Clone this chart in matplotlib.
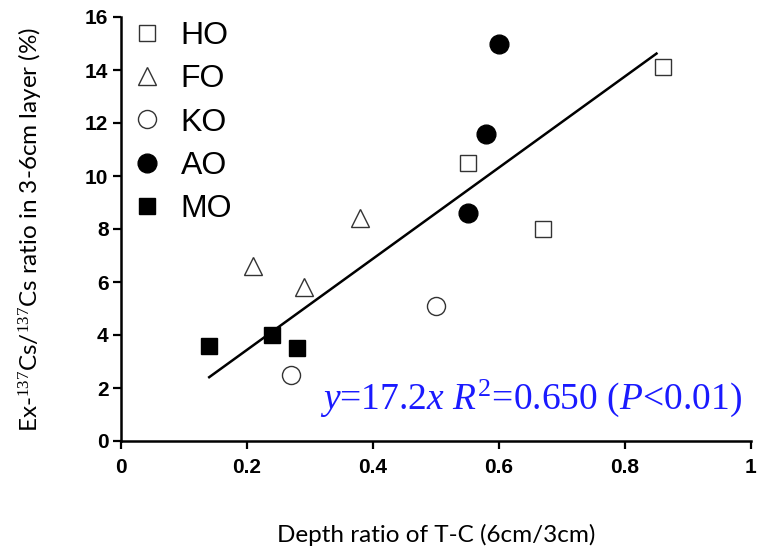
import matplotlib
matplotlib.use("Agg")
import matplotlib.pyplot as plt
import numpy as np

# Sample groups: depth ratio (x) vs Ex-137Cs ratio in the 3-6 cm layer (y)
groups = ["HO", "FO", "KO", "AO", "MO"]
ho_x = [0.55, 0.67, 0.86]
ho_y = [10.5, 8.0, 14.1]
fo_x = [0.21, 0.29, 0.38]
fo_y = [6.6, 5.8, 8.4]
ko_x = [0.50, 0.27]
ko_y = [5.1, 2.5]
ao_x = [0.60, 0.58, 0.55]
ao_y = [15.0, 11.6, 8.6]
mo_x = [0.14, 0.24, 0.28]
mo_y = [3.6, 4.0, 3.5]

slope = 17.2
fit_range = [0.14, 0.85]
x_ticks = [0, 0.2, 0.4, 0.6, 0.8, 1]
x_tick_labels = ["0", "0.2", "0.4", "0.6", "0.8", "1"]
y_ticks = [0, 2, 4, 6, 8, 10, 12, 14, 16]

plt.rcParams["mathtext.fontset"] = "custom"
plt.rcParams["mathtext.rm"] = "Liberation Serif"
plt.rcParams["mathtext.it"] = "Liberation Serif:italic"

fig = plt.figure(figsize=(7.72, 5.5), dpi=100)
ax = fig.add_axes([121 / 772, 1 - 441 / 550, 630 / 772, 424 / 550])

edge = "#333333"
styles = {
    "HO": dict(marker="s", ms=11.5, mfc="white", mec=edge, mew=1.0),
    "FO": dict(marker="^", ms=12.5, mfc="white", mec=edge, mew=1.0),
    "KO": dict(marker="o", ms=13, mfc="white", mec=edge, mew=1.0),
    "AO": dict(marker="o", ms=13.5, mfc="black", mec="black", mew=1.0),
    "MO": dict(marker="s", ms=12, mfc="black", mec="black", mew=1.0),
}
data = {"HO": (ho_x, ho_y), "FO": (fo_x, fo_y), "KO": (ko_x, ko_y),
        "AO": (ao_x, ao_y), "MO": (mo_x, mo_y)}

handles = []
for g in groups:
    xs, ys = data[g]
    h, = ax.plot(xs, ys, ls="none", label=g, zorder=3, **styles[g])
    handles.append(h)

fx = np.array(fit_range)
ax.plot(fx, slope * fx, color="black", lw=1.8, zorder=2)

ax.set_xlim(0, 1)
ax.set_ylim(0, 16)
ax.set_xticks(x_ticks)
ax.set_xticklabels(x_tick_labels)
ax.set_yticks(y_ticks)
for s in ("top", "right"):
    ax.spines[s].set_visible(False)
for s in ("left", "bottom"):
    ax.spines[s].set_linewidth(1.8)
ax.tick_params(direction="out", length=6, width=1.6, pad=3)
tick_font = dict(family=["Liberation Sans Narrow", "Liberation Sans", "DejaVu Sans"],
                 weight="bold", size=15)
for lab in ax.get_xticklabels() + ax.get_yticklabels():
    lab.set_fontproperties(matplotlib.font_manager.FontProperties(**tick_font))
ax.tick_params(axis="x", pad=6)

label_font = dict(family=["Lato", "DejaVu Sans"], size=17.5)
ax.set_xlabel("Depth ratio of T-C (6cm/3cm)", labelpad=34, **label_font)
ax.set_ylabel("Ex-$^{137}$Cs/$^{137}$Cs ratio in 3-6cm layer (%)", labelpad=30, **label_font)

leg = ax.legend(handles=handles, loc="upper left", bbox_to_anchor=(-0.055, 1.059),
                frameon=False, handletextpad=0.05, labelspacing=0.42,
                prop=dict(family=["Liberation Sans", "DejaVu Sans"], size=23))

ax.text(0.65, 1.62,
        r"$\mathit{y}$=17.2$\mathit{x}$ $\mathit{R}^2$=0.650 ($\mathit{P}$<0.01)",
        color="#1a1aff", family="Liberation Serif", fontsize=27, ha="center", va="center")

fig.savefig("out.png", dpi=100)
